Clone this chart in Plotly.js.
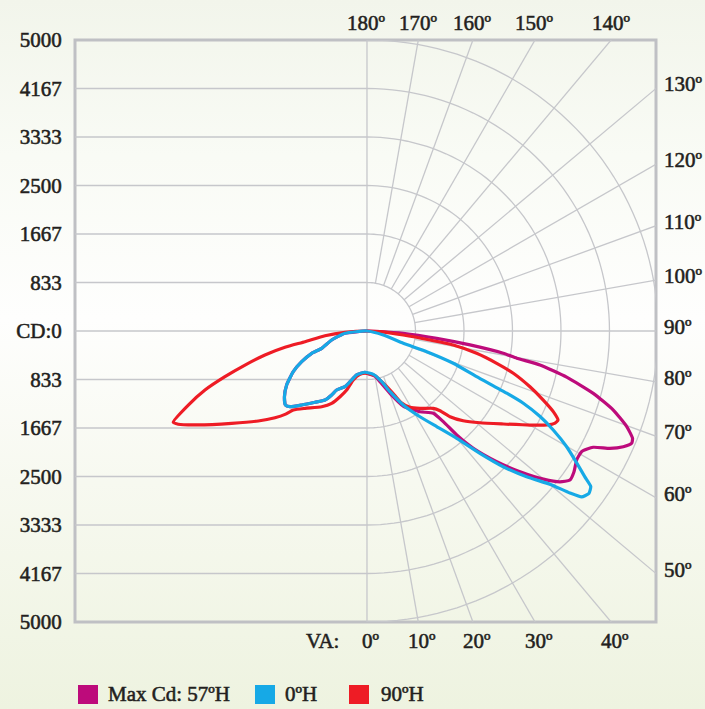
<!DOCTYPE html>
<html><head><meta charset="utf-8">
<script src="https://cdn.plot.ly/plotly-3.0.1.min.js"></script>
<style>
html,body{margin:0;padding:0;}
body{width:705px;height:709px;overflow:hidden;
 background:linear-gradient(180deg,#f2f5eb 0%,#f9fbf5 22%,#fefefd 45%,#f7f9f0 68%,#eef3e0 100%);}
#chart{width:705px;height:709px;}
#chart svg text{stroke:#231f20;stroke-width:0.55px;}
</style></head><body><div id="chart"></div>
<script>
// ---- data: vertical angle (deg, negative = left half) and candela ----
const vaMax57 = [-95,-84.0,-75.7,-69.1,-68.0,-64.8,-61.1,-56.1,-51.5,-47.8,-45.5,-41.4,-36.1,-31.3,-28.9,-27.2,-21.6,-18.5,-13.2,-2.8,
  0,10,14.4,20.3,25.8,33.3,38.9,40.1,40.8,42.2,44.8,47.4,50.0,52.0,53.7,55.8,58.4,60.7,62.8,64.2,65.7,67.0,68.0,69.8,72.2,74.6,77.0,78.9,79.7,80.7,82.3,84.0,86.4,87.8,95];
const cdMax57 = [0,380,626,833,1024,1240,1447,1663,1812,1892,1856,1696,1516,1388,1256,1140,1029,919,776,710,
  727,790,899,1141,1432,1659,1816,2036,2360,2720,3164,3572,3959,4208,4327,4301,4230,4232,4371,4636,4832,4940,4921,4756,4445,4033,3521,3029,2615,2373,1786,1204,625,223,0];

const vaH0 = [-95,-84.0,-75.7,-69.1,-68.0,-64.8,-61.1,-56.1,-51.5,-47.8,-45.5,-41.4,-36.1,-31.3,-28.9,-27.2,-21.6,-18.5,-13.2,-2.8,
  8.3,16.2,20.8,26.1,31.7,36.1,39.9,42.7,45.1,47.6,50.1,51.4,52.3,53.8,55.2,56.2,57.8,59.9,62.0,63.7,65.2,66.0,67.4,69.5,70.9,71.3,76.2,95];
const cdH0 = [0,380,626,833,1024,1240,1447,1663,1812,1892,1856,1696,1516,1388,1256,1140,1029,919,776,710,
  752,907,1115,1416,1732,2034,2404,2861,3304,3715,4110,4462,4660,4725,4682,4505,4261,3966,3625,3318,2959,2629,2041,1583,1086,658,289,0];

const vaH90 = [-95,-86.6,-83.6,-80.2,-78.8,-76.8,-74.4,-72.2,-70.0,-67.5,-64.8,-63.7,-60.9,-55.7,-50.4,-46.7,-44.5,-43.0,-38.7,-30.9,-26.0,-22.3,-19.0,-15.6,-9.2,
  0,10.1,16.2,22.1,25.4,29.4,34.4,40.6,42.5,44.1,47.0,50.9,55.7,60.0,62.4,63.9,65.0,66.6,68.6,71.1,73.9,76.0,78.5,80.8,81.9,83.7,86.9,95];
const cdH90 = [0,379,726,1081,1436,1801,2176,2563,2962,3323,3679,3617,3318,2814,2425,2172,2009,1856,1703,1516,1383,1220,1072,874,754,
  727,780,907,1126,1360,1505,1611,1750,1857,2050,2261,2500,2835,3233,3485,3598,3621,3488,3253,2960,2617,2297,1923,1502,1093,627,223,0];

const seriesNames = ['Max Cd: 57\u00baH', '0\u00baH', '90\u00baH'];
const cdTickVals = [5000, 4166.67, 3333.33, 2500, 1666.67, 833.33, 0, -833.33, -1666.67, -2500, -3333.33, -4166.67, -5000];
const cdTickText = ['5000','4167','3333','2500','1667','833','CD:0','833','1667','2500','3333','4167','5000'];
const gridStep = 833.33;
const topAngles = [180,170,160,150,140];
const rightAngles = [130,120,110,100,90,80,70,60,50];
const bottomAngles = [0,10,20,30,40];

// ---- styles ----
const colors = ['#bd0b7b', '#16a9e6', '#ee1c25'];
const gridColor = '#c6c7cb';
const font = {family:'Liberation Serif, Times New Roman, serif', size:21, color:'#231f20'};
const xRange = [-5017, 4966], yRange = [-5000, 5000];

const rad = d => d*Math.PI/180;
function toXY(va, cd){
  return {x: va.map((a,i)=>cd[i]*Math.sin(rad(a))), y: va.map((a,i)=>-cd[i]*Math.cos(rad(a)))};
}
const series = [[vaMax57,cdMax57],[vaH0,cdH0],[vaH90,cdH90]];
const drawOrder = [0,2,1];
const traces = drawOrder.map(k=>{
  const p = toXY(series[k][0], series[k][1]);
  return {x:p.x, y:p.y, type:'scatter', mode:'lines', name:seriesNames[k],
    line:{color:colors[k], width:3.2, shape:'spline', smoothing:0.5}, hoverinfo:'skip', showlegend:false};
});

// ---- grid shapes ----
const shapes = [];
const gl = {color:gridColor, width:1.3};
for(let k=1;k<=6;k++){
  const r = k*gridStep;
  let d = '';
  for(let a=0;a<=180;a+=2){
    const x = r*Math.sin(rad(a)), y = -r*Math.cos(rad(a));
    d += (a===0?'M':' L') + x.toFixed(1)+','+y.toFixed(1);
  }
  shapes.push({type:'path', xref:'x', yref:'y', path:d, line:gl, layer:'below'});
  if(k<6){
    shapes.push({type:'line', xref:'x', yref:'y', x0:xRange[0], x1:0, y0:r, y1:r, line:gl, layer:'below'});
    shapes.push({type:'line', xref:'x', yref:'y', x0:xRange[0], x1:0, y0:-r, y1:-r, line:gl, layer:'below'});
  }
}
shapes.push({type:'line', xref:'x', yref:'y', x0:xRange[0], x1:xRange[1], y0:0, y1:0, line:gl, layer:'below'});
shapes.push({type:'line', xref:'x', yref:'y', x0:0, x1:0, y0:yRange[0], y1:yRange[1], line:gl, layer:'below'});
for(let a=10;a<=170;a+=10){
  if(a===90) continue;
  const r0 = gridStep, r1 = 9000;
  shapes.push({type:'line', xref:'x', yref:'y',
    x0:r0*Math.sin(rad(a)), y0:-r0*Math.cos(rad(a)), x1:r1*Math.sin(rad(a)), y1:-r1*Math.cos(rad(a)), line:gl, layer:'below'});
}
shapes.push({type:'rect', xref:'paper', yref:'paper', x0:0, x1:1, y0:0, y1:1, line:{color:'#bfc0c4', width:3}, layer:'below'});

// ---- angle labels ----
const annotations = [];
topAngles.forEach(a=>annotations.push({xref:'x', yref:'paper', x:yRange[1]*Math.tan(rad(180-a)), y:1.0292,
  text:a+'\u00ba', showarrow:false, font:font, xanchor:'center', yanchor:'middle'}));
bottomAngles.forEach(a=>annotations.push({xref:'x', yref:'paper', x:-yRange[0]*Math.tan(rad(a)), y:-0.0326,
  text:a+'\u00ba', showarrow:false, font:font, xanchor:'center', yanchor:'middle', xshift:4}));
rightAngles.forEach(a=>annotations.push({xref:'paper', yref:'y', x:1.0098, y:-xRange[1]/Math.tan(rad(a)),
  text:a+'\u00ba', showarrow:false, font:font, xanchor:'left', yanchor:'middle', yshift:4}));
annotations.push({xref:'paper', yref:'paper', x:0.426, y:-0.0326, text:'VA:', showarrow:false, font:font, xanchor:'center', yanchor:'middle'});

// ---- legend (squares + text) ----
const legX = [[0.0052,0.0396,0.0534],[0.3098,0.3442,0.358],[0.4716,0.506,0.5232]];
legX.forEach((p,k)=>{
  shapes.push({type:'rect', xref:'paper', yref:'paper', x0:p[0], x1:p[1], y0:-0.1409, y1:-0.1082,
    fillcolor:colors[k], line:{width:0}});
  annotations.push({xref:'paper', yref:'paper', x:p[2], y:-0.1237, text:seriesNames[k], showarrow:false,
    font:font, xanchor:'left', yanchor:'middle'});
});

const layout = {
  width:705, height:709,
  margin:{l:75, r:49, t:40, b:87},
  paper_bgcolor:'rgba(0,0,0,0)', plot_bgcolor:'rgba(0,0,0,0)',
  showlegend:false,
  xaxis:{range:xRange, showgrid:false, zeroline:false, showline:false, showticklabels:false, ticks:'', fixedrange:true},
  yaxis:{range:yRange, showgrid:false, zeroline:false, showline:false, tickmode:'array',
    tickvals:cdTickVals, ticktext:cdTickText, ticks:'outside', ticklen:8, tickcolor:'rgba(0,0,0,0)',
    tickfont:font, fixedrange:true},
  shapes:shapes, annotations:annotations
};
Plotly.newPlot('chart', traces, layout, {staticPlot:true, displayModeBar:false});
</script></body></html>
